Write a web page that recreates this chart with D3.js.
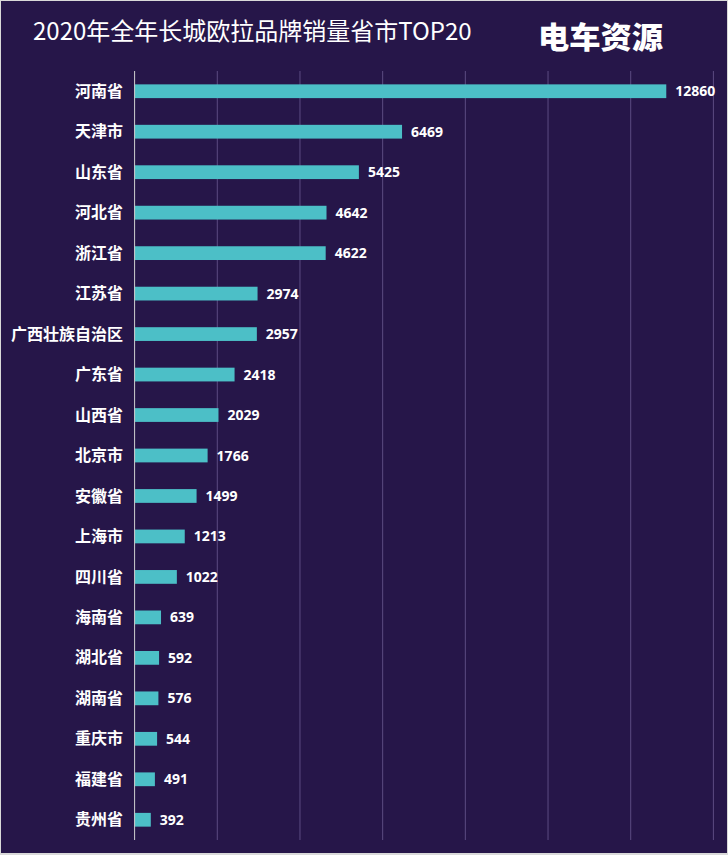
<!DOCTYPE html>
<html>
<head>
<meta charset="utf-8">
<script src="https://cdn.jsdelivr.net/npm/d3@7"></script>
<style>
  html, body { margin: 0; padding: 0; background: #d9d9d9; }
  svg { display: block; }
</style>
</head>
<body>
<svg id="chart" width="728" height="855"></svg>
<script>
const categories = ["河南省","天津市","山东省","河北省","浙江省","江苏省","广西壮族自治区","广东省","山西省","北京市","安徽省","上海市","四川省","海南省","湖北省","湖南省","重庆市","福建省","贵州省"];
const values = [12860,6469,5425,4642,4622,2974,2957,2418,2029,1766,1499,1213,1022,639,592,576,544,491,392];
const tickValues = [0,2000,4000,6000,8000,10000,12000,14000];
const titleText = "2020年全年长城欧拉品牌销量省市TOP20";
const logoText = "电车资源";

const W = 728, H = 855;
const svg = d3.select("#chart");
const cjk = "'Noto Sans CJK SC', 'Noto Sans', sans-serif";

svg.append("rect").attr("x",1).attr("y",1).attr("width",726).attr("height",852).attr("fill","#261649");

const x = d3.scaleLinear().domain([0,14000]).range([134.6,713.4]);
const y = d3.scaleBand().domain(categories).range([71,840]).paddingInner(0.66).paddingOuter(0.33);

// gridlines
svg.append("g").selectAll("line").data(tickValues.slice(1)).join("line")
  .attr("x1",d=>x(d)).attr("x2",d=>x(d))
  .attr("y1",71).attr("y2",840)
  .attr("stroke","#5c4c82").attr("stroke-width",1);

// bars
svg.append("g").selectAll("rect").data(categories).join("rect")
  .attr("x",x(0)).attr("y",d=>y(d))
  .attr("width",(d,i)=>x(values[i])-x(0))
  .attr("height",y.bandwidth())
  .attr("fill","#4cbfc7");

// axis line
svg.append("line").attr("x1",x(0)).attr("x2",x(0)).attr("y1",71).attr("y2",840)
  .attr("stroke","#d0d0d0").attr("stroke-width",1);

// category labels
svg.append("g").selectAll("text").data(categories).join("text")
  .attr("x",123).attr("y",d=>y(d)+y.bandwidth()/2)
  .attr("dy","0.35em")
  .attr("text-anchor","end")
  .attr("fill","#ffffff")
  .attr("font-family",cjk).attr("font-weight",700).attr("font-size",16)
  .text(d=>d);

// value labels
svg.append("g").selectAll("text").data(categories).join("text")
  .attr("x",(d,i)=>x(values[i])+9).attr("y",d=>y(d)+y.bandwidth()/2)
  .attr("dy","0.36em")
  .attr("fill","#ffffff")
  .attr("font-family","'Noto Sans', sans-serif").attr("font-weight",700).attr("font-size",14)
  .text((d,i)=>values[i]);

// title
svg.append("text").attr("x",33).attr("y",40)
  .attr("fill","#ffffff")
  .attr("font-family",cjk).attr("font-weight",400).attr("font-size",24)
  .text(titleText);

// logo
svg.append("text").attr("x",538).attr("y",48)
  .attr("fill","#ffffff")
  .attr("font-family",cjk).attr("font-weight",900).attr("font-size",30)
  .attr("textLength",125).attr("lengthAdjust","spacingAndGlyphs")
  .text(logoText);
</script>
</body>
</html>
